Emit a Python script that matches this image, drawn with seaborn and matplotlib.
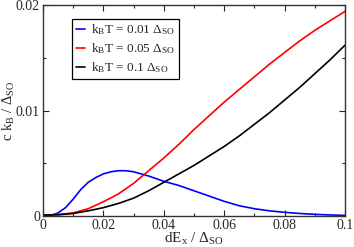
import numpy as np
import pandas as pd
import matplotlib
matplotlib.use("Agg")
import matplotlib.pyplot as plt
import seaborn as sns
from matplotlib.ticker import MultipleLocator, FuncFormatter

# values
x_warm = [0.0, 0.005, 0.01, 0.015, 0.02, 0.025, 0.03, 0.035, 0.04, 0.045, 0.05,
          0.055, 0.06, 0.065, 0.07, 0.075, 0.08, 0.085, 0.09, 0.095, 0.1]
c_t005 = [0.0001, 0.00015, 0.0003, 0.0007, 0.00136, 0.0021, 0.0031, 0.0043, 0.0055, 0.0068, 0.0082,
          0.0095, 0.0108, 0.0120, 0.0132, 0.0144, 0.0155, 0.0166, 0.0176, 0.0185, 0.0194]
c_t01 = [0.0001, 0.00012, 0.00025, 0.0005, 0.0008, 0.0012, 0.0017, 0.0024, 0.0032, 0.0040, 0.0048,
         0.0057, 0.0066, 0.0076, 0.0087, 0.0098, 0.0110, 0.0122, 0.0135, 0.0148, 0.0162]

x_cold = [0.0, 0.0025, 0.005, 0.0075, 0.01, 0.0125, 0.015, 0.0175, 0.02, 0.0225, 0.025,
          0.0275, 0.03, 0.0325, 0.035, 0.04, 0.045, 0.05, 0.055, 0.06, 0.065,
          0.07, 0.075, 0.08, 0.085, 0.09, 0.095, 0.1]
c_t001 = [0.0, 0.00005, 0.0003, 0.0008, 0.0016, 0.0025, 0.0032, 0.00365, 0.0040, 0.0042, 0.0043,
          0.0043, 0.0042, 0.0040, 0.0038, 0.0033, 0.0029, 0.0024, 0.0019, 0.0014, 0.00098,
          0.0007, 0.0005, 0.00036, 0.00025, 0.00017, 0.00011, 0.00007]

labels = [r'k$_\mathrm{B}$T = 0.01 Δ$_\mathrm{SO}$',
          r'k$_\mathrm{B}$T = 0.05 Δ$_\mathrm{SO}$',
          r'k$_\mathrm{B}$T = 0.1 Δ$_\mathrm{SO}$']
colors = ['#0000ff', '#ff0000', '#000000']

sns.set_style("ticks")
plt.rcParams['font.family'] = ['Liberation Serif', 'DejaVu Serif']
plt.rcParams['mathtext.fontset'] = 'custom'
plt.rcParams['mathtext.rm'] = 'Liberation Serif'
plt.rcParams['mathtext.it'] = 'Liberation Serif:italic'

fig = plt.figure(figsize=(3.54, 2.47), dpi=100)
ax = fig.add_axes([0.121, 0.125, 0.854, 0.855])

series = [(x_cold, c_t001), (x_warm, c_t005), (x_warm, c_t01)]
for (xs, ys), lab, col in zip(series, labels, colors):
    sns.lineplot(x=xs, y=ys, ax=ax, color=col, label=lab, linewidth=1.2)

ax.set_xlim(0, 0.1)
ax.set_ylim(0, 0.02)
ax.xaxis.set_major_locator(MultipleLocator(0.02))
ax.xaxis.set_minor_locator(MultipleLocator(0.01))
ax.yaxis.set_major_locator(MultipleLocator(0.01))
ax.yaxis.set_minor_locator(MultipleLocator(0.005))
fmt = FuncFormatter(lambda v, p: '%g' % round(v, 4))
ax.xaxis.set_major_formatter(fmt)
ax.yaxis.set_major_formatter(fmt)
ax.tick_params(which='both', direction='in', top=True, right=True, labelsize=10, pad=2)
ax.tick_params(which='major', length=4, width=0.8)
ax.tick_params(which='minor', length=2, width=0.8)
for s in ax.spines.values():
    s.set_linewidth(1.0)
    s.set_color('#333333')

ax.set_xlabel(r'dE$_\mathrm{x}$ / Δ$_\mathrm{SO}$', fontsize=11, labelpad=-1)
ax.set_ylabel(r'c k$_\mathrm{B}$ / Δ$_\mathrm{SO}$', fontsize=10.5)
ax.yaxis.set_label_coords(-0.085, 0.5)

leg = ax.legend(loc='upper left', bbox_to_anchor=(0.097, 0.935), fontsize=9.5,
                handlelength=0.7, handletextpad=0.4, borderpad=0.3, labelspacing=0.3,
                fancybox=False, framealpha=1, edgecolor='black', borderaxespad=0)
leg.get_frame().set_linewidth(0.9)

fig.savefig('out.png', dpi=100)
